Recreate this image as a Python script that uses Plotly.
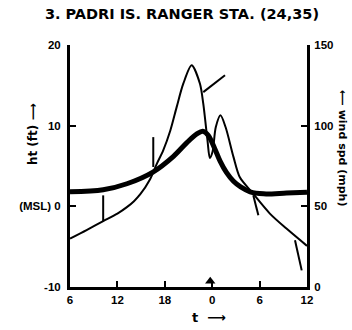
import plotly.graph_objects as go

# ---- data (hours relative to landfall, tide height ft, wind speed mph) ----
tide_hours = [-18, -13.8, -10.8, -7.5, -4.9, -3.2, -1.9, -1.2, -0.5, 0.3, 1.0, 1.8, 2.7, 3.6, 4.8, 6.5, 9.4, 12]
tide_ft = [1.8, 2.05, 2.8, 4.25, 6.2, 7.9, 9.0, 9.3, 8.8, 7.2, 5.6, 4.2, 3.1, 2.4, 1.8, 1.55, 1.65, 1.75]

wind_hours = [-18, -15.9, -13.8, -12.0, -10.8, -9.9, -9.1, -7.9, -7.0, -6.2, -5.3, -4.5, -3.66, -2.6,
              -1.55, -1.13, -0.6, -0.3, 0.05, 0.45, 1.05, 1.7, 2.7, 3.5, 5.0, 7.3, 9.4, 12]
wind_mph = [30, 35.3, 40.8, 45.5, 49.5, 53.2, 57.5, 66.5, 76.5, 84.7, 97, 111.5, 126, 137.4,
            126, 113.6, 91, 80, 84, 99, 106.4, 99, 80.5, 68, 58.9, 45.5, 36.2, 25.5]

# wind direction barbs: base (on wind curve) and tip
barb_t0 = [-13.8, -7.46, -1.13, 5.2, 10.48]
barb_v0 = [40.8, 74.4, 120.8, 56.8, 29.0]
barb_t1 = [-13.8, -7.46, 1.62, 5.84, 11.33]
barb_v1 = [56.8, 92.9, 131.2, 44.4, 10.3]

eye_t = [-0.25]
eye_ft = [-9.3]

x_ticks = [-18, -12, -6, 0, 6, 12]
x_ticktext = ["6", "12", "18", "0", "6", "12"]
y_ticks = [-10, 0, 10, 20]
y_ticktext = ["-10", "(MSL) 0", "10", "20"]
y2_ticks = [0, 50, 100, 150]
y2_ticktext = ["0", "50", "100", "150"]

FONT = "DejaVu Sans, Liberation Sans, sans-serif"
TICKFONT = "Liberation Sans, Arial, sans-serif"

fig = go.Figure()

fig.add_trace(go.Scatter(x=tide_hours, y=tide_ft, mode="lines",
                         line=dict(color="black", width=5, shape="spline", smoothing=0.9),
                         hoverinfo="skip", showlegend=False))
fig.add_trace(go.Scatter(x=wind_hours, y=wind_mph, mode="lines", yaxis="y2",
                         line=dict(color="black", width=2, shape="spline", smoothing=0.8),
                         hoverinfo="skip", showlegend=False))
for t0, v0, t1, v1 in zip(barb_t0, barb_v0, barb_t1, barb_v1):
    fig.add_trace(go.Scatter(x=[t0, t1], y=[v0, v1], mode="lines", yaxis="y2",
                             line=dict(color="black", width=2),
                             hoverinfo="skip", showlegend=False))
fig.add_trace(go.Scatter(x=eye_t, y=eye_ft, mode="markers",
                         marker=dict(symbol="triangle-up", size=9, color="black"),
                         hoverinfo="skip", showlegend=False))

tickfont = dict(family=TICKFONT, size=11.5, color="black", weight="bold")
labfont = dict(family=FONT, size=12, color="black", weight="bold")

fig.update_layout(
    width=352, height=330,
    margin=dict(l=70, r=45, t=45, b=43),
    paper_bgcolor="white", plot_bgcolor="white",
    font=dict(family=FONT, color="black"),
    title=dict(text="3. PADRI IS. RANGER STA. (24,35)", x=0.517, xref="container",
               y=0.958, yref="container", xanchor="center", yanchor="middle",
               font=dict(family=FONT, size=14.5, color="black", weight="bold")),
    xaxis=dict(range=[-18, 12], showgrid=False, zeroline=False, showline=True,
               linecolor="black", linewidth=3, ticks="inside", ticklen=6, tickwidth=2,
               tickcolor="black", tickvals=x_ticks, ticktext=x_ticktext, tickfont=tickfont,
               automargin=False),
    yaxis=dict(range=[-10, 20], showgrid=False, zeroline=False, showline=True,
               linecolor="black", linewidth=3, ticks="inside", ticklen=6, tickwidth=2,
               tickcolor="black", tickvals=y_ticks, ticktext=y_ticktext, tickfont=tickfont,
               ticklabelstandoff=4, automargin=False),
    yaxis2=dict(range=[0, 150], overlaying="y", side="right", showgrid=False, zeroline=False,
                showline=True, linecolor="black", linewidth=3, ticks="inside", ticklen=6,
                tickwidth=2, tickcolor="black", tickvals=y2_ticks, ticktext=y2_ticktext,
                tickfont=tickfont, ticklabelstandoff=2, automargin=False),
    annotations=[
        dict(text="ht (ft) ⟶", textangle=-90, x=-0.156, y=0.632, xref="paper", yref="paper",
             xanchor="center", yanchor="middle", showarrow=False, font=labfont),
        dict(text="⟵ wind spd (mph)", textangle=90, x=1.152, y=0.574, xref="paper", yref="paper",
             xanchor="center", yanchor="middle", showarrow=False,
             font=dict(family=FONT, size=11, color="black", weight="bold")),
        dict(text="t  ⟶", x=0.587, y=-0.128, xref="paper", yref="paper",
             xanchor="center", yanchor="middle", showarrow=False,
             font=dict(family=FONT, size=13, color="black", weight="bold")),
    ],
)

fig.write_html("out.html", config={"displayModeBar": False},
               post_script="document.body.style.margin='0';")
